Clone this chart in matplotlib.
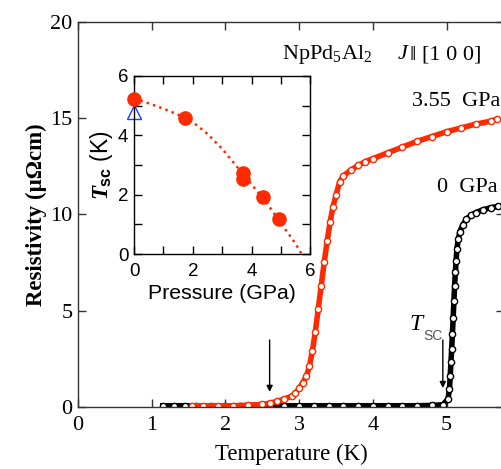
import matplotlib.pyplot as plt

plt.rcParams['mathtext.fontset'] = 'custom'
plt.rcParams['mathtext.rm'] = 'Liberation Serif'
plt.rcParams['mathtext.it'] = 'Liberation Serif:italic:bold'
plt.rcParams['mathtext.bf'] = 'Liberation Sans:bold'

SERIF = ['Liberation Serif', 'DejaVu Serif']
SANS = ['Liberation Sans', 'DejaVu Sans']

# 0 GPa resistivity curve
temp_0gpa = [1.15, 1.3, 1.45, 1.6, 1.8, 2.0, 2.2, 2.4, 2.6, 2.8, 3.0, 3.2, 3.4, 3.6,
             3.8, 4.0, 4.2, 4.4, 4.6, 4.8, 4.95, 5.02, 5.04, 5.05, 5.06, 5.07, 5.08,
             5.09, 5.10, 5.11, 5.12, 5.13, 5.14, 5.16, 5.18, 5.22, 5.27, 5.33, 5.4,
             5.5, 5.6, 5.7, 5.78]
rho_0gpa = [0.05, 0.05, 0.05, 0.05, 0.05, 0.05, 0.05, 0.05, 0.05, 0.05, 0.05, 0.05,
            0.05, 0.05, 0.05, 0.05, 0.05, 0.05, 0.05, 0.07, 0.1, 0.4, 0.9, 1.6, 2.3,
            3.0, 3.8, 4.6, 5.5, 6.3, 7.0, 7.6, 8.2, 8.7, 9.1, 9.45, 9.75, 9.95, 10.1,
            10.25, 10.35, 10.42, 10.45]

# 3.55 GPa resistivity curve
temp_355gpa = [1.55, 1.7, 1.9, 2.1, 2.3, 2.5, 2.6, 2.7, 2.8, 2.9, 2.95, 3.0, 3.05,
               3.1, 3.14, 3.18, 3.22, 3.26, 3.3, 3.34, 3.38, 3.42, 3.46, 3.5, 3.55,
               3.6, 3.7, 3.8, 3.9, 4.0, 4.2, 4.4, 4.6, 4.8, 5.0, 5.2, 5.4, 5.6, 5.68]
rho_355gpa = [0.05, 0.05, 0.05, 0.05, 0.08, 0.12, 0.18, 0.28, 0.4, 0.55, 0.7, 0.95,
              1.25, 1.6, 2.1, 2.9, 3.9, 5.1, 6.3, 7.5, 8.6, 9.6, 10.4, 11.0, 11.7,
              12.0, 12.3, 12.55, 12.75, 12.9, 13.2, 13.5, 13.8, 14.05, 14.3, 14.5,
              14.7, 14.85, 14.95]

# inset: Tsc vs pressure
pressure = [0.0, 1.75, 3.72, 3.72, 4.4, 4.93]
tsc = [5.24, 4.6, 2.74, 2.53, 1.91, 1.17]
pressure_ref = [0.0]
tsc_ref = [4.8]
guide_p = [0.0, 0.5, 1.0, 1.5, 2.0, 2.5, 3.0, 3.5, 4.0, 4.5, 5.0, 5.5, 5.71]
guide_t = [5.24, 5.08, 4.9, 4.7, 4.45, 4.05, 3.55, 2.95, 2.35, 1.75, 1.05, 0.35, 0.0]

RED = '#ff2a00'

fig = plt.figure(figsize=(5.02, 4.69), dpi=100)
ax = fig.add_axes([0.1554, 0.1328, 0.8486, 0.820])

ax.plot(temp_0gpa, rho_0gpa, '-o', color='black', lw=4, ms=4.5, mfc='white',
        mec='black', mew=1)
ax.plot(temp_355gpa, rho_355gpa, '-o', color=RED, lw=4, ms=4.5, mfc='white',
        mec=RED, mew=1)

ax.set_xlim(0, 5.78)
ax.set_ylim(0, 20)
ax.set_xticks([0, 1, 2, 3, 4, 5])
ax.set_yticks([0, 5, 10, 15, 20])
ax.tick_params(direction='in', length=5.5, width=1, top=True, right=True,
               labelsize=16, color='#333333')
ax.tick_params(axis='x', pad=7)
ax.tick_params(axis='y', pad=4)
for lab in ax.get_xticklabels() + ax.get_yticklabels():
    lab.set_family(SERIF)
for sp in ax.spines.values():
    sp.set_color('#333333')
    sp.set_linewidth(1)
ax.set_xlabel('Temperature (K)', family=SERIF, fontsize=16.5, labelpad=6)
ax.set_ylabel('Resistivity (\u03bc\u03a9cm)', family=SERIF, fontsize=16.5,
              fontweight='bold', labelpad=2)

ax.text(2.77, 18.3, r'NpPd$_{5}$Al$_{2}$', family=SERIF, fontsize=16, va='center')
ax.text(4.34, 18.3, 'J', family=SERIF, fontstyle='italic', fontsize=16, va='center')
ax.text(4.5, 18.3, '\u2016 [1 0 0]', family=SERIF, fontsize=16, va='center')
ax.text(5.73, 15.87, '3.55  GPa', family=SERIF, fontsize=16, va='center', ha='right')
ax.text(5.70, 11.4, '0  GPa', family=SERIF, fontsize=16, va='center', ha='right')
ax.text(4.5, 4.3, 'T', family=SERIF, fontstyle='italic', fontsize=17, va='center')
ax.text(4.68, 3.68, 'SC', family=SANS, fontsize=10, va='center', color='#555555')

for xa, y0, y1 in [(2.6, 3.47, 0.77), (4.95, 3.47, 0.97)]:
    ax.annotate('', xy=(xa, y1), xytext=(xa, y0),
                arrowprops=dict(arrowstyle='-|>', color='black', lw=1,
                                mutation_scale=9, shrinkA=0, shrinkB=0))

# inset
ins = fig.add_axes([0.267, 0.458, 0.351, 0.380])
ins.plot(guide_p, guide_t, ':', color=RED, lw=1.8)
ins.plot(pressure, tsc, 'o', color=RED, ms=9.5, clip_on=False, zorder=3)
ins.plot(pressure_ref, tsc_ref, '^', ms=10, mfc='white', mec='#1f3cff', mew=1,
         clip_on=False, zorder=2)
ins.set_xlim(0, 6)
ins.set_ylim(0, 6)
ins.set_xticks([0, 2, 4, 6])
ins.set_xticks([1, 3, 5], minor=True)
ins.set_yticks([0, 2, 4, 6])
ins.set_yticks([1, 3, 5], minor=True)
ins.tick_params(which='both', direction='in', top=True, right=True, width=1,
                length=6, labelsize=13.5, labelfontfamily='Liberation Sans')
ins.tick_params(axis='x', pad=6)
ins.tick_params(axis='y', pad=4)
for sp in ins.spines.values():
    sp.set_linewidth(1)
ins.set_xlabel('Pressure (GPa)', family=SANS, fontsize=15.3, labelpad=3)
ins.set_ylabel(r'$T_{\mathbf{sc}}$ (K)', family=SANS, fontsize=16.5, labelpad=2)

fig.savefig('out.png', dpi=100)
